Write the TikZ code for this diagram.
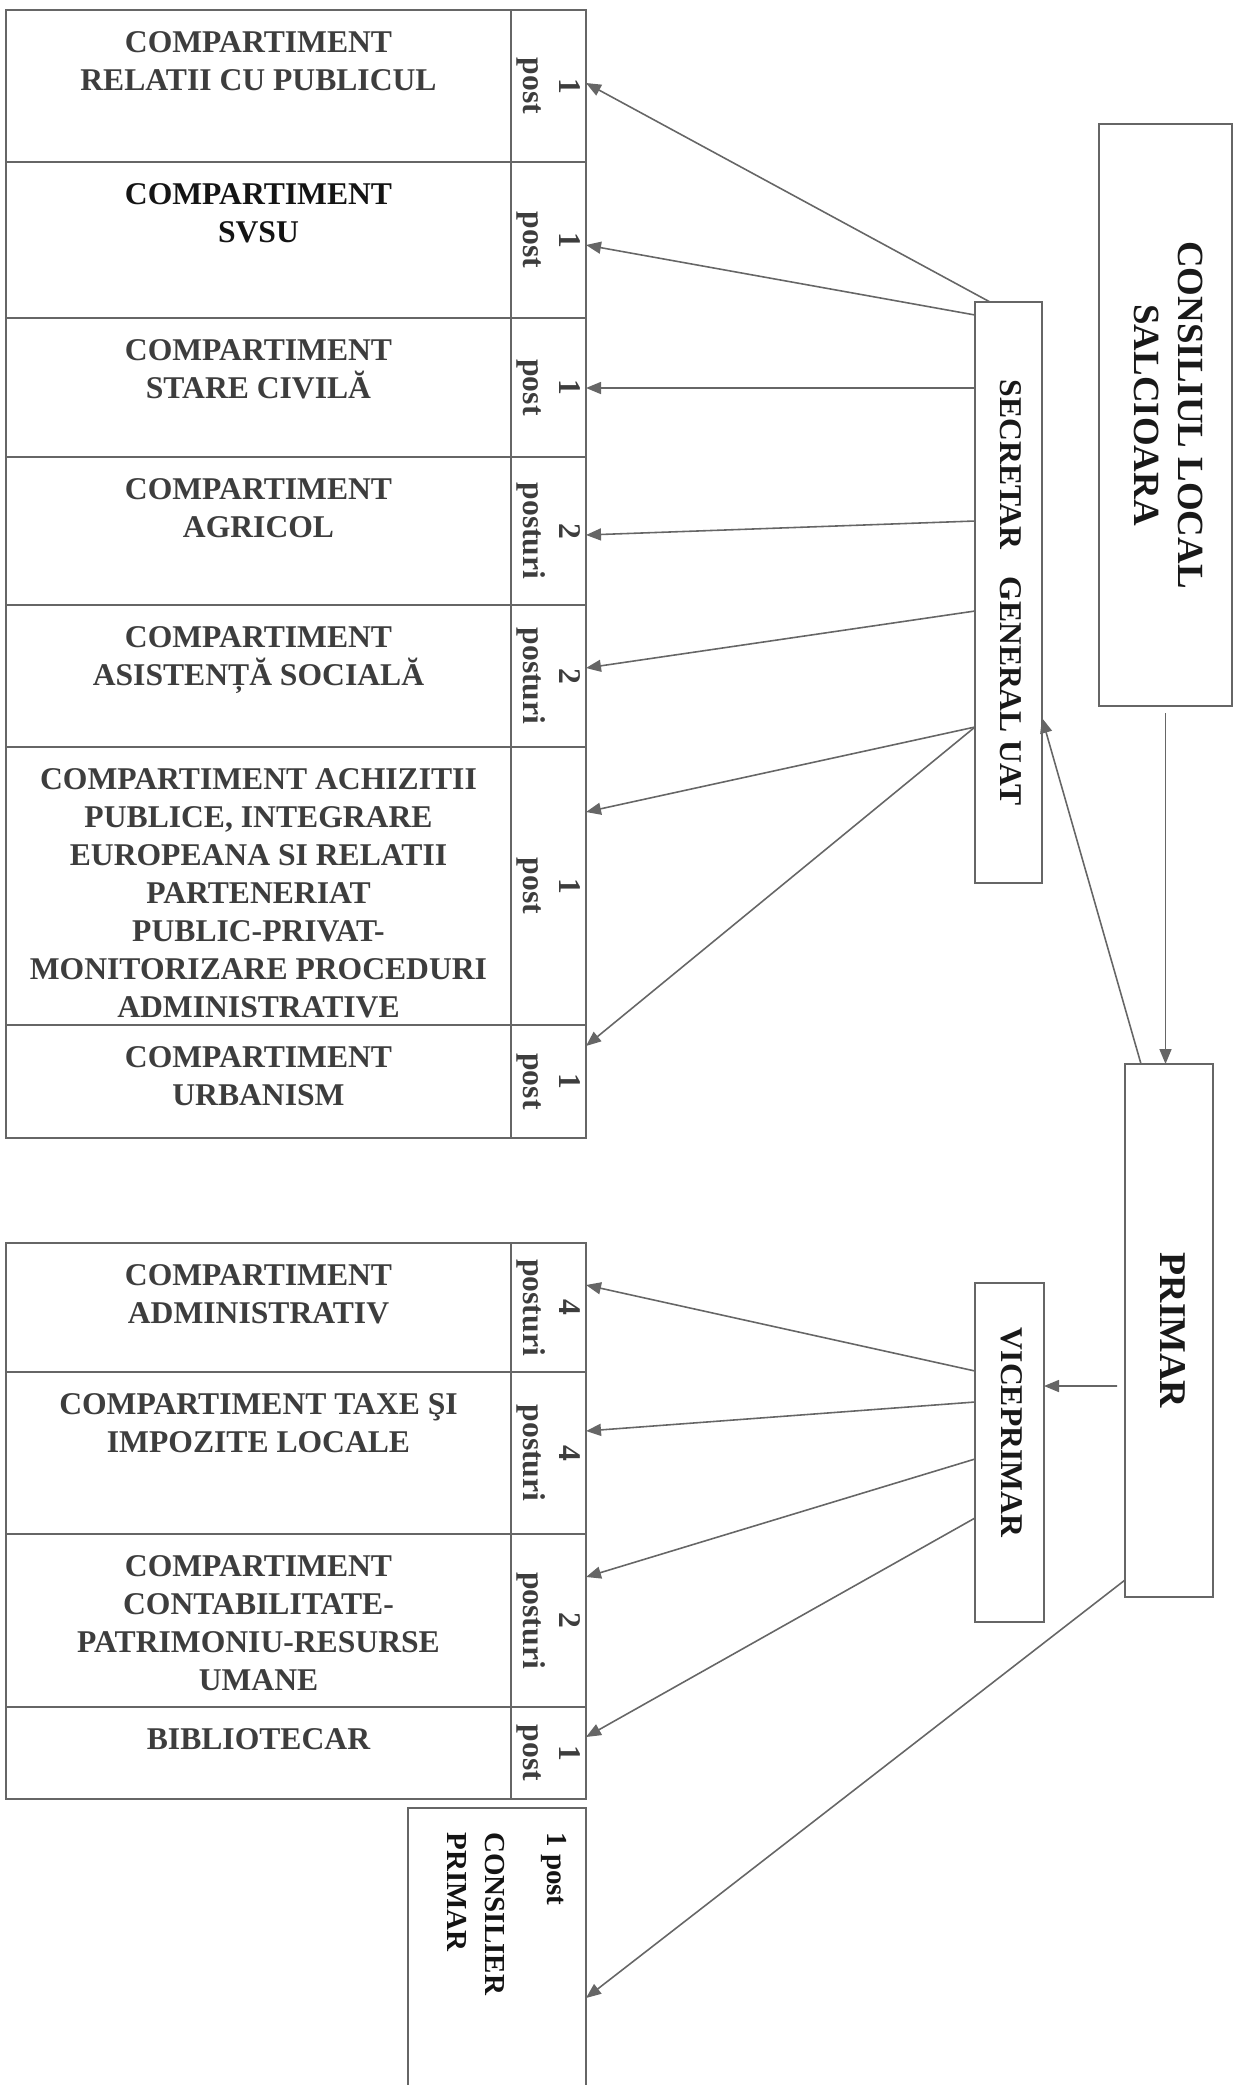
\documentclass[tikz,border=0pt]{standalone}
\usepackage{fontspec}
\setmainfont{Liberation Serif}
\usepackage{graphicx}
\usetikzlibrary{positioning,arrows.meta}

\definecolor{linec}{gray}{0.40}
\definecolor{txtc}{gray}{0.24}

% compartment text, set from the top of the cell
\newcommand{\ctext}[2]{\parbox[c][#1][t]{10.1cm}{\centering\vspace*{0.44cm}#2}}
% upright text turned to read downwards
\newcommand{\vtext}[1]{\rotatebox{-90}{\begin{tabular}{@{}c@{}}#1\end{tabular}}}
\newcommand{\vtextl}[1]{\rotatebox{-90}{\begin{tabular}{@{}l@{}}#1\end{tabular}}}

\tikzset{
  comp/.style={draw=linec, line width=1pt, inner sep=0pt, outer sep=0pt, text=txtc,
    font=\fontsize{18}{21.6}\selectfont\bfseries},
  nr/.style={comp, minimum width=1.5cm, font=\fontsize{18}{20}\selectfont\bfseries},
  head/.style={draw=linec, line width=1pt, inner sep=0pt, outer sep=0pt, text=black!90},
  arr/.style={draw=linec, line width=0.9pt, -{Triangle[length=0.3cm,width=0.24cm]}}
}

\begin{document}
\begin{tikzpicture}
  \useasboundingbox (0,0) rectangle (24.7,-41.7);

  % secretar general: compartments
  \node [comp, anchor=north west] (Rel) at (0.12,-0.2) {\ctext{3.04cm}{COMPARTIMENT\\RELATII CU PUBLICUL}};
  \node [nr, right=0cm of Rel, minimum height=3.04cm] (RelN) {\vtext{1\\post}};
  \node [comp, below=0cm of Rel, text=black!92] (Svsu) {\ctext{3.12cm}{COMPARTIMENT\\SVSU}};
  \node [nr, right=0cm of Svsu, minimum height=3.12cm] (SvsuN) {\vtext{1\\post}};
  \node [comp, below=0cm of Svsu] (Civ) {\ctext{2.78cm}{COMPARTIMENT\\STARE CIVILĂ}};
  \node [nr, right=0cm of Civ, minimum height=2.78cm] (CivN) {\vtext{1\\post}};
  \node [comp, below=0cm of Civ] (Agr) {\ctext{2.96cm}{COMPARTIMENT\\AGRICOL}};
  \node [nr, right=0cm of Agr, minimum height=2.96cm] (AgrN) {\vtext{2\\posturi}};
  \node [comp, below=0cm of Agr] (Asist) {\ctext{2.84cm}{COMPARTIMENT\\ASISTENȚĂ SOCIALĂ}};
  \node [nr, right=0cm of Asist, minimum height=2.84cm] (AsistN) {\vtext{2\\posturi}};
  \node [comp, below=0cm of Asist] (Achiz) {\ctext{5.56cm}{COMPARTIMENT ACHIZITII\\PUBLICE, INTEGRARE\\EUROPEANA SI RELATII\\PARTENERIAT\\PUBLIC-PRIVAT-\\MONITORIZARE PROCEDURI\\ADMINISTRATIVE}};
  \node [nr, right=0cm of Achiz, minimum height=5.56cm] (AchizN) {\vtext{1\\post}};
  \node [comp, below=0cm of Achiz] (Urb) {\ctext{2.26cm}{COMPARTIMENT\\URBANISM}};
  \node [nr, right=0cm of Urb, minimum height=2.26cm] (UrbN) {\vtext{1\\post}};

  % viceprimar: compartments
  \node [comp, anchor=north west] (Adm) at (0.12,-24.86) {\ctext{2.58cm}{COMPARTIMENT\\ADMINISTRATIV}};
  \node [nr, right=0cm of Adm, minimum height=2.58cm] (AdmN) {\vtext{4\\posturi}};
  \node [comp, below=0cm of Adm] (Taxe) {\ctext{3.24cm}{COMPARTIMENT TAXE ŞI\\IMPOZITE LOCALE}};
  \node [nr, right=0cm of Taxe, minimum height=3.24cm] (TaxeN) {\vtext{4\\posturi}};
  \node [comp, below=0cm of Taxe] (Contab) {\ctext{3.46cm}{COMPARTIMENT\\CONTABILITATE-\\PATRIMONIU-RESURSE\\UMANE}};
  \node [nr, right=0cm of Contab, minimum height=3.46cm] (ContabN) {\vtext{2\\posturi}};
  \node [comp, below=0cm of Contab] (Bibl) {\ctext{1.84cm}{BIBLIOTECAR}};
  \node [nr, right=0cm of Bibl, minimum height=1.84cm] (BiblN) {\vtext{1\\post}};

  % consilier primar
  \node [head, minimum width=3.56cm, minimum height=5.8cm, below left=0.18cm and 0cm of BiblN.south east] (Cons) {};
  \node [anchor=north east, inner sep=0pt, text=black!92, font=\fontsize{16.5}{22}\selectfont\bfseries]
    (ConsText) at ([xshift=-0.23cm,yshift=-0.48cm]Cons.north east) {\vtextl{1 post\\[0.45cm]CONSILIER\\PRIMAR}};

  % conducere
  \node [head, minimum width=2.66cm, minimum height=11.64cm, font=\fontsize{21}{25}\selectfont\bfseries]
    (CL) at (23.31,-8.30) {\vtext{CONSILIUL LOCAL\\SALCIOARA}};
  \node [head, minimum width=1.34cm, minimum height=11.62cm, font=\fontsize{18}{21.6}\selectfont\bfseries]
    (Sec) at (20.17,-11.85) {\vtext{SECRETAR\hspace{0.6em} GENERAL UAT}};
  \node [head, minimum width=1.76cm, minimum height=10.66cm, font=\fontsize{21.5}{25}\selectfont\bfseries]
    (Prim) at (23.38,-26.61) {\vtext{PRIMAR}};
  \node [head, minimum width=1.38cm, minimum height=6.78cm, font=\fontsize{18}{21.6}\selectfont\bfseries]
    (Vice) at (20.19,-29.05) {\vtext{VICEPRIMAR\hspace{0.8cm}\mbox{}}};

  \draw [arr] ([yshift=-0.14cm]CL.south) -- (CL.south |- Prim.north);
  \draw [arr] ([xshift=0.32cm]Prim.north west) -- ([yshift=3.3cm]Sec.south east);
  \draw [arr] ([xshift=-0.16cm,yshift=-1.11cm]Prim.west) -- ([yshift=-2.06cm]Vice.north east);
  \draw [arr] ([yshift=0.34cm]Prim.south west) -- ([yshift=-3.8cm]Cons.north east);

  \draw [arr] ([xshift=0.3cm]Sec.north west) -- ([yshift=-1.46cm]RelN.north east);
  \draw [arr] ([yshift=-0.26cm]Sec.north west) -- ([yshift=-1.66cm]SvsuN.north east);
  \draw [arr] ([yshift=-1.72cm]Sec.north west) -- ([yshift=-1.4cm]CivN.north east);
  \draw [arr] ([yshift=-4.38cm]Sec.north west) -- ([yshift=-1.56cm]AgrN.north east);
  \draw [arr] ([yshift=-6.18cm]Sec.north west) -- ([yshift=-1.26cm]AsistN.north east);
  \draw [arr] ([yshift=-8.5cm]Sec.north west) -- ([yshift=-1.3cm]AchizN.north east);
  \draw [arr] ([yshift=-8.5cm]Sec.north west) -- ([yshift=-0.42cm]UrbN.north east);

  \draw [arr] ([yshift=-1.76cm]Vice.north west) -- ([yshift=-0.84cm]AdmN.north east);
  \draw [arr] ([yshift=-2.38cm]Vice.north west) -- ([yshift=-1.18cm]TaxeN.north east);
  \draw [arr] ([yshift=-3.52cm]Vice.north west) -- ([yshift=-0.86cm]ContabN.north east);
  \draw [arr] ([yshift=-4.7cm]Vice.north west) -- ([yshift=-0.6cm]BiblN.north east);
\end{tikzpicture}
\end{document}
